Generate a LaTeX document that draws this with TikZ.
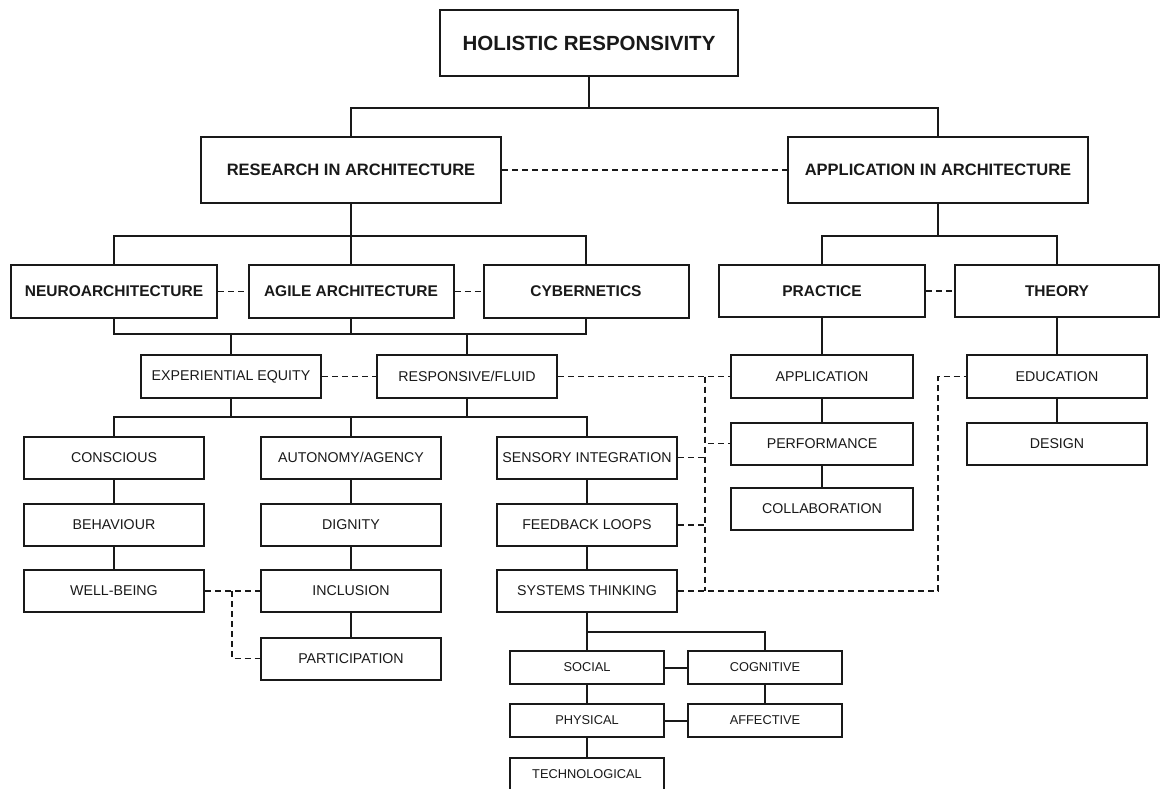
\documentclass[tikz,border=0pt]{standalone}
\usepackage{fontspec}
\setmainfont{Liberation Sans}
\begin{document}
\begin{tikzpicture}[x=1pt,y=-1pt, line width=2pt, color=black!90,
  box/.style={draw=black!90, line width=2pt, rectangle, inner sep=0pt, align=center, text=black!90},
  topbox/.style={box, minimum width=298pt, minimum height=66pt, font=\fontsize{20.5}{24}\selectfont\bfseries},
  secbox/.style={box, minimum width=300pt, minimum height=66pt, font=\fontsize{16.5}{20}\selectfont\bfseries},
  thrbox/.style={box, minimum width=205pt, minimum height=53pt, font=\fontsize{15.5}{19}\selectfont\bfseries},
  lowbox/.style={box, minimum width=180pt, minimum height=42pt, font=\fontsize{14.2}{17}\selectfont},
  smallbox/.style={box, minimum width=154pt, minimum height=33pt, font=\fontsize{12.8}{15}\selectfont},
  link/.style={line width=1.8pt, dash pattern=on 6pt off 4pt}
]
\useasboundingbox (0,0) rectangle (1160,789);
\fill[white] (0,0) rectangle (1160,789);
\clip (0,0) rectangle (1160,789);

% top
\node[topbox] (hr) at (589,43) {HOLISTIC RESPONSIVITY};
\node[secbox] (research) at (351,170) {RESEARCH IN ARCHITECTURE};
\node[secbox] (apparch) at (938,170) {APPLICATION IN ARCHITECTURE};

% third row
\node[thrbox, minimum width=206pt] (neuro) at (114,291.5) {NEUROARCHITECTURE};
\node[thrbox] (agile) at (351,291.5) {AGILE ARCHITECTURE};
\node[thrbox] (cyber) at (586,291.5) {CYBERNETICS};
\node[thrbox, minimum width=206pt, minimum height=52pt] (practice) at (822,291) {PRACTICE};
\node[thrbox, minimum width=204pt, minimum height=52pt] (theory) at (1057,291) {THEORY};

% fourth row
\node[lowbox, minimum width=180pt, minimum height=43pt] (ee) at (231,376.5) {EXPERIENTIAL EQUITY};
\node[lowbox, minimum height=43pt] (rf) at (467,376.5) {RESPONSIVE/FLUID};
\node[lowbox, minimum width=182pt, minimum height=43pt] (application) at (822,376.5) {APPLICATION};
\node[lowbox, minimum height=43pt] (education) at (1057,376.5) {EDUCATION};
\node[lowbox, minimum width=182pt] (performance) at (822,443.5) {PERFORMANCE};
\node[lowbox] (design) at (1057,443.5) {DESIGN};
\node[lowbox, minimum width=182pt] (collaboration) at (822,509) {COLLABORATION};

% columns
\node[lowbox] (conscious) at (114,457.5) {CONSCIOUS};
\node[lowbox] (behaviour) at (114,525) {BEHAVIOUR};
\node[lowbox] (wellbeing) at (114,591) {WELL-BEING};
\node[lowbox] (autonomy) at (351,457.5) {AUTONOMY/AGENCY};
\node[lowbox] (dignity) at (351,525) {DIGNITY};
\node[lowbox] (inclusion) at (351,591) {INCLUSION};
\node[lowbox] (participation) at (351,658.5) {PARTICIPATION};
\node[lowbox] (sensory) at (587,457.5) {SENSORY INTEGRATION};
\node[lowbox] (feedback) at (587,525) {FEEDBACK LOOPS};
\node[lowbox] (systems) at (587,591) {SYSTEMS THINKING};

% bottom group
\node[smallbox] (social) at (587,667.5) {SOCIAL};
\node[smallbox] (cognitive) at (765,667.5) {COGNITIVE};
\node[smallbox] (physical) at (587,720.5) {PHYSICAL};
\node[smallbox] (affective) at (765,720.5) {AFFECTIVE};
\node[smallbox] (techno) at (587,774) {TECHNOLOGICAL};

% junction coordinates
\coordinate (j1) at (589,108);
\coordinate (j2) at (351,236);
\coordinate (j3) at (351,334);
\coordinate (j4) at (351,417);
\coordinate (j5) at (938,236);
\coordinate (j6) at (587,632);
\coordinate (d1) at (705,376.5);
\coordinate (d2) at (938,376.5);
\coordinate (d3) at (232,591);

% solid tree connectors
\draw (hr.south) -- (j1);
\draw (research.north) |- (j1) -| (apparch.north);
\draw (research.south) -- (agile.north);
\draw (neuro.north) |- (j2) -| (cyber.north);
\draw (neuro.south) |- (j3) -| (cyber.south);
\draw (agile.south) -- (j3);
\draw (ee.north) -- (ee.north |- j3);
\draw (rf.north) -- (rf.north |- j3);
\draw (conscious.north) |- (j4) -| (sensory.north);
\draw (ee.south) -- (ee.south |- j4);
\draw (rf.south) -- (rf.south |- j4);
\draw (autonomy.north) -- (autonomy.north |- j4);
\draw (conscious) -- (behaviour) -- (wellbeing);
\draw (autonomy) -- (dignity) -- (inclusion) -- (participation);
\draw (sensory) -- (feedback) -- (systems);
\draw (apparch.south) -- (j5);
\draw (practice.north) |- (j5) -| (theory.north);
\draw (practice) -- (application) -- (performance) -- (collaboration);
\draw (theory) -- (education) -- (design);
\draw (systems.south) -- (social.north);
\draw (j6) -| (cognitive.north);
\draw (social) -- (physical) -- (techno);
\draw (cognitive) -- (affective);
\draw (social) -- (cognitive);
\draw (physical) -- (affective);

% dashed links
\draw[link] (research) -- (apparch);
\draw[link] (neuro) -- (agile);
\draw[link] (agile) -- (cyber);
\draw[link] (practice) -- (theory);
\draw[link] (ee) -- (rf);
\draw[link] (rf) -- (application);
\draw[link] (d1) |- (performance.west);
\draw[link] (d1) -- (d1 |- systems.east);
\draw[link] (sensory.east) -- (sensory.east -| d1);
\draw[link] (feedback.east) -- (feedback.east -| d1);
\draw[link] (systems.east) -| (d2) -- (education.west);
\draw[link] (wellbeing) -- (inclusion);
\draw[link] (d3) |- (participation.west);
\end{tikzpicture}
\end{document}
